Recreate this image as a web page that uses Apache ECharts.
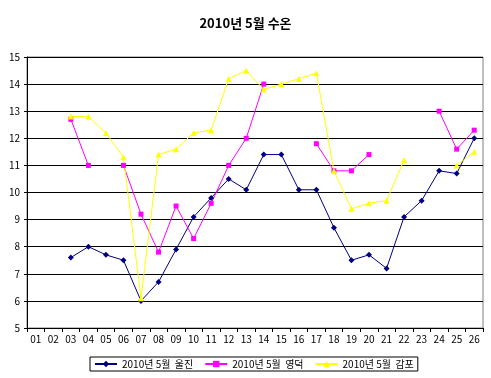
<!DOCTYPE html>
<html><head><meta charset="utf-8">
<script src="https://cdn.jsdelivr.net/npm/echarts@6/dist/echarts.min.js"></script>
<style>html,body{margin:0;padding:0;background:#fff}#c{width:491px;height:378px}</style>
</head><body><div id="c"></div>
<script>
const categories = ['01','02','03','04','05','06','07','08','09','10','11','12','13','14','15','16','17','18','19','20','21','22','23','24','25','26'];
const uljin = [null,null,7.6,8.0,7.7,7.5,6.0,6.7,7.9,9.1,9.8,10.5,10.1,11.4,11.4,10.1,10.1,8.7,7.5,7.7,7.2,9.1,9.7,10.8,10.7,12.0];
const yeongdeok = [null,null,12.7,11.0,null,11.0,9.2,7.8,9.5,8.3,9.6,11.0,12.0,14.0,null,null,11.8,10.8,10.8,11.4,null,null,null,13.0,11.6,12.3];
const gampo = [null,null,12.8,12.8,12.2,11.3,6.1,11.4,11.6,12.2,12.3,14.2,14.5,13.8,14.0,14.2,14.4,10.8,9.4,9.6,9.7,11.2,null,null,11.0,11.5];
const seriesNames = ['2010년 5월  울진','2010년 5월  영덕','2010년 5월  감포'];
const font = '"Noto Sans CJK KR", "DejaVu Sans", sans-serif';
const chart = echarts.init(document.getElementById('c'));
function mk(name, data, color, symbol, size){
  return {name, type:'line', data, connectNulls:false, symbol, symbolSize:size,
    lineStyle:{color, width:1}, itemStyle:{color}, animation:false};
}
chart.setOption({
  backgroundColor:'#fff',
  title:{text:'2010년 5월 수온', left:'center', top:12, textStyle:{fontFamily:font, fontSize:13, fontWeight:'bold', color:'#000'}},
  grid:{left:27, right:8, top:57, bottom:50, show:true, borderColor:'#808080', borderWidth:1, backgroundColor:'#fff'},
  legend:{left:90, top:357, itemWidth:22, itemHeight:8, itemGap:11, padding:[2,4,2,4],
    borderColor:'#000', borderWidth:1, borderRadius:0,
    textStyle:{fontFamily:font, fontSize:10, color:'#000'}, data:seriesNames},
  xAxis:{type:'category', data:categories, boundaryGap:true,
    axisLine:{lineStyle:{color:'#000'}}, axisTick:{show:true, length:4, lineStyle:{color:'#000'}},
    axisLabel:{fontFamily:font, fontSize:10, color:'#000', interval:0, margin:6}},
  yAxis:{type:'value', min:5, max:15, interval:1,
    axisLine:{show:true, lineStyle:{color:'#000'}}, axisTick:{show:true, length:3, lineStyle:{color:'#000'}},
    splitLine:{lineStyle:{color:'#000', width:1}},
    axisLabel:{fontFamily:font, fontSize:10, color:'#000', margin:7}},
  series:[
    mk(seriesNames[0], uljin, '#000080', 'diamond', 6),
    mk(seriesNames[1], yeongdeok, '#FF00FF', 'rect', 5),
    mk(seriesNames[2], gampo, '#FFFF00', 'triangle', 6)
  ]
});
</script></body></html>
